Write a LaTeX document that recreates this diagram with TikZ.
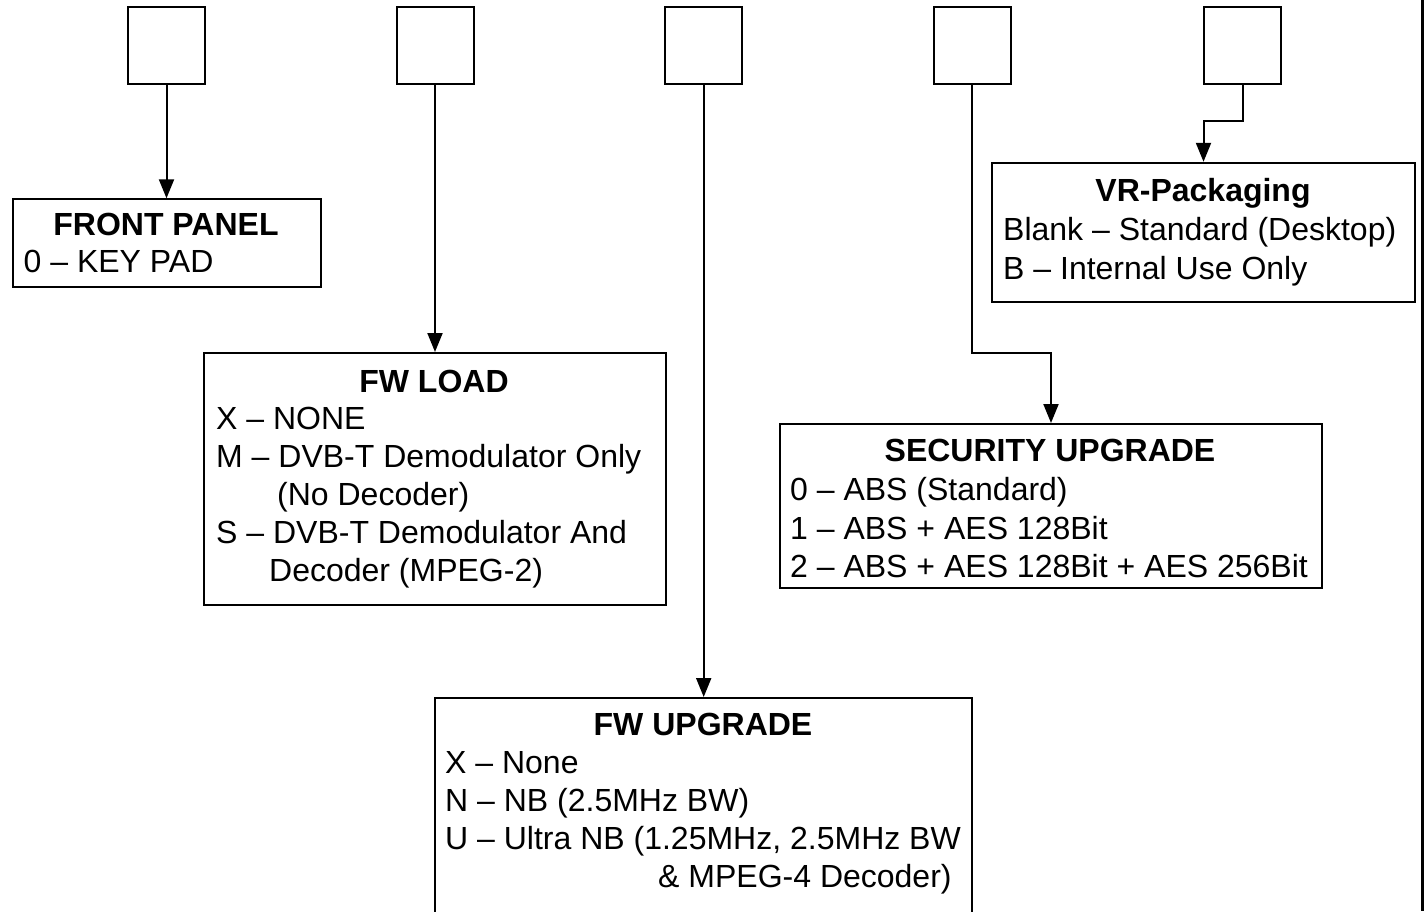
\documentclass[tikz,border=0pt]{standalone}
\usepackage{fontspec}
\setmainfont{Liberation Sans}
\usetikzlibrary{arrows.meta}
\begin{document}
\begin{tikzpicture}[x=1pt,y=-1pt,
  every node/.style={font=\fontsize{32}{38}\selectfont, inner sep=0pt},
  sq/.style={draw, line width=2pt, minimum width=77pt, minimum height=77pt, anchor=north west},
  panel/.style={draw, line width=2pt, anchor=north west},
  ttl/.style={anchor=base, font=\fontsize{32}{38}\selectfont\bfseries},
  itm/.style={anchor=base west},
  conn/.style={line width=2pt, -{Triangle[length=19pt,width=15pt]}},
  edge line/.style={line width=2.5pt}]
\useasboundingbox (0,0) rectangle (1426,911);
\clip (0,0) rectangle (1426,911);

% top selector boxes
\node[sq] (s1) at (127,6) {};
\node[sq] (s2) at (395.5,6) {};
\node[sq] (s3) at (664.2,6) {};
\node[sq] (s4) at (932.5,6) {};
\node[sq] (s5) at (1203,6) {};

% option panels
\node[panel, minimum width=308pt, minimum height=88pt] (fp) at (12.3,198.3) {};
\node[panel, minimum width=462pt, minimum height=252pt] (fwl) at (203,352) {};
\node[panel, minimum width=542pt, minimum height=164pt] (sec) at (779,423) {};
\node[panel, minimum width=423pt, minimum height=139pt] (vr) at (991,161.8) {};
\node[panel, minimum width=537.4pt, minimum height=260pt] (fwu) at (434,697) {};

% texts: FRONT PANEL
\node[ttl] (fpT) at (166,235.5) {FRONT PANEL};
\node[itm] (fp1) at (23.5,272.5) {0 \textendash{} KEY PAD};

% FW LOAD
\node[ttl] (fwlT) at (434,392) {FW LOAD};
\node[itm] (fwl1) at (216,429.5) {X \textendash{} NONE};
\node[itm] (fwl2) at (216,467.7) {M \textendash{} DVB-T Demodulator Only};
\node[itm] (fwl3) at (277,505.7) {(No Decoder)};
\node[itm] (fwl4) at (216,543.5) {S \textendash{} DVB-T Demodulator And};
\node[itm] (fwl5) at (269,581.7) {Decoder (MPEG-2)};

% SECURITY UPGRADE
\node[ttl] (secT) at (1050,461.5) {SECURITY UPGRADE};
\node[itm] (sec1) at (790,500.5) {0 \textendash{} ABS (Standard)};
\node[itm] (sec2) at (790,539) {1 \textendash{} ABS + AES 128Bit};
\node[itm] (sec3) at (790,577) {2 \textendash{} ABS + AES 128Bit + AES 256Bit};

% VR-Packaging
\node[ttl] (vrT) at (1203,201.5) {VR-Packaging};
\node[itm] (vr1) at (1003,240) {Blank \textendash{} Standard (Desktop)};
\node[itm] (vr2) at (1003,279) {B \textendash{} Internal Use Only};

% FW UPGRADE
\node[ttl] (fwuT) at (703,735.5) {FW UPGRADE};
\node[itm] (fwu1) at (445,773.5) {X \textendash{} None};
\node[itm] (fwu2) at (445,811) {N \textendash{} NB (2.5MHz BW)};
\node[itm] (fwu3) at (445,849) {U \textendash{} Ultra NB (1.25MHz, 2.5MHz BW};
\node[itm] (fwu4) at (658,887) {\& MPEG-4 Decoder)};

% connectors
\draw[conn] (s1.south) -- (s1.south |- fp.north);
\draw[conn] (s2.south) -- (s2.south |- fwl.north);
\draw[conn] (s3.south) -- (s3.south |- fwu.north);
\coordinate (k4) at (s4.south |- 0,353.3);
\draw[conn] (s4.south) -- (k4) -| (sec.north);
\coordinate (k5) at (s5.south |- 0,121.4);
\draw[conn] (s5.south) -- (k5) -| (vr.north);

% right edge line
\coordinate (eTop) at (1422.3,0);
\coordinate (eBot) at (1422.3,911);
\draw[edge line] (eTop) -- (eBot);
\end{tikzpicture}
\end{document}
